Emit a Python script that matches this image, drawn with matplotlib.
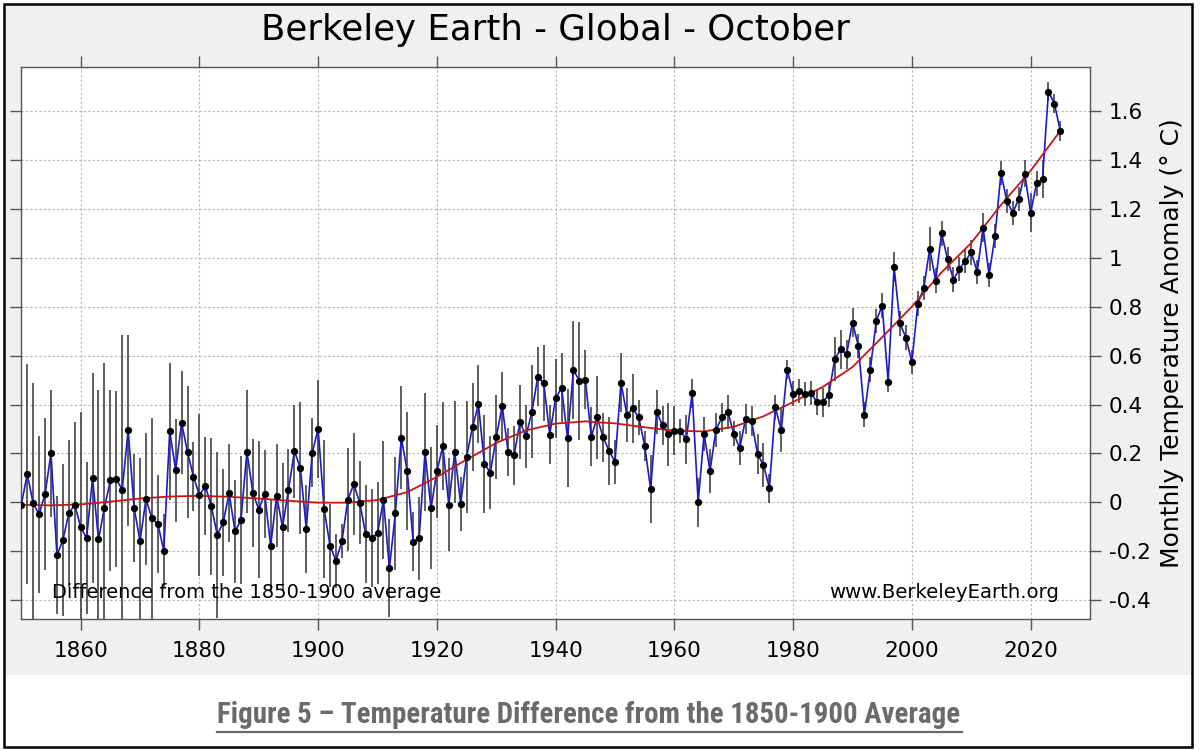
import numpy as np
import matplotlib
matplotlib.use('Agg')
import matplotlib.pyplot as plt
from matplotlib.patches import Rectangle
from matplotlib.lines import Line2D

# October anomaly (deg C) relative to 1850-1900
years = list(range(1850, 2026))
anomaly = [
    -0.010, 0.116, -0.004, -0.048, 0.034, 0.200, -0.215, -0.155, -0.044, -0.010,
    -0.100, -0.146, 0.099, -0.151, -0.022, 0.090, 0.095, 0.052, 0.295, -0.022,
    -0.158, 0.014, -0.065, -0.088, -0.197, 0.290, 0.132, 0.325, 0.205, 0.105,
    0.030, 0.067, -0.015, -0.132, -0.082, 0.037, -0.118, -0.072, 0.208, 0.039,
    -0.029, 0.035, -0.178, 0.027, -0.100, 0.050, 0.210, 0.140, -0.107, 0.203,
    0.300, -0.027, -0.177, -0.238, -0.159, 0.011, 0.075, -0.001, -0.129, -0.146,
    -0.125, 0.010, -0.268, -0.045, 0.264, 0.129, -0.160, -0.146, 0.206, -0.024,
    0.127, 0.230, -0.009, 0.206, -0.005, 0.186, 0.308, 0.401, 0.157, 0.122,
    0.267, 0.394, 0.206, 0.192, 0.328, 0.270, 0.371, 0.514, 0.487, 0.277,
    0.425, 0.469, 0.262, 0.542, 0.496, 0.501, 0.269, 0.347, 0.266, 0.211,
    0.166, 0.489, 0.358, 0.384, 0.347, 0.231, 0.054, 0.370, 0.315, 0.278,
    0.293, 0.291, 0.258, 0.445, 0.000, 0.280, 0.128, 0.297, 0.347, 0.370,
    0.281, 0.222, 0.341, 0.333, 0.198, 0.153, 0.058, 0.388, 0.295, 0.543,
    0.444, 0.455, 0.442, 0.448, 0.409, 0.409, 0.440, 0.584, 0.626, 0.605,
    0.735, 0.638, 0.359, 0.543, 0.742, 0.804, 0.493, 0.962, 0.731, 0.673,
    0.573, 0.812, 0.875, 1.037, 0.906, 1.099, 0.995, 0.910, 0.953, 0.987,
    1.021, 0.942, 1.123, 0.929, 1.089, 1.345, 1.231, 1.183, 1.240, 1.343,
    1.183, 1.303, 1.321, 1.678, 1.629, 1.518,
]
uncertainty = [
    0.50, 0.45, 0.49, 0.32, 0.31, 0.26, 0.24, 0.31, 0.30, 0.34,
    0.47, 0.31, 0.43, 0.61, 0.59, 0.37, 0.36, 0.63, 0.39, 0.22,
    0.34, 0.27, 0.41, 0.20, 0.15, 0.28, 0.21, 0.21, 0.27, 0.14,
    0.33, 0.20, 0.28, 0.34, 0.22, 0.20, 0.21, 0.26, 0.25, 0.22,
    0.28, 0.18, 0.19, 0.21, 0.26, 0.17, 0.19, 0.27, 0.18, 0.14,
    0.20, 0.28, 0.17, 0.11, 0.07, 0.21, 0.21, 0.17, 0.20, 0.20,
    0.21, 0.24, 0.20, 0.23, 0.21, 0.24, 0.12, 0.17, 0.24, 0.25,
    0.19, 0.18, 0.19, 0.21, 0.11, 0.23, 0.18, 0.16, 0.20, 0.15,
    0.17, 0.14, 0.10, 0.12, 0.15, 0.13, 0.19, 0.12, 0.155, 0.12,
    0.16, 0.14, 0.20, 0.20, 0.24, 0.12, 0.12, 0.17, 0.10, 0.14,
    0.09, 0.12, 0.11, 0.14, 0.07, 0.06, 0.14, 0.09, 0.08, 0.13,
    0.10, 0.05, 0.10, 0.06, 0.10, 0.07, 0.09, 0.07, 0.06, 0.07,
    0.05, 0.07, 0.06, 0.06, 0.08, 0.09, 0.06, 0.05, 0.09, 0.04,
    0.05, 0.05, 0.05, 0.05, 0.05, 0.06, 0.05, 0.09, 0.08, 0.06,
    0.06, 0.05, 0.05, 0.05, 0.05, 0.05, 0.04, 0.06, 0.05, 0.05,
    0.05, 0.05, 0.05, 0.09, 0.05, 0.05, 0.05, 0.05, 0.05, 0.05,
    0.05, 0.05, 0.06, 0.05, 0.05, 0.05, 0.05, 0.05, 0.05, 0.055,
    0.08, 0.05, 0.076, 0.04, 0.04, 0.04,
]

# smoothed trend (red line), read every 5 years
smooth_years = list(range(1850, 2026, 5))
smooth_vals = [
    -0.010, -0.012, -0.008, 0.003, 0.016, 0.024, 0.027, 0.023, 0.016, 0.007,
    -0.001, -0.001, 0.010, 0.042, 0.104, 0.175, 0.243, 0.294, 0.322, 0.331,
    0.323, 0.307, 0.293, 0.290, 0.309, 0.352, 0.410, 0.472, 0.553, 0.675,
    0.800, 0.940, 1.060, 1.215, 1.355, 1.518,
]

x_ticks = [1860, 1880, 1900, 1920, 1940, 1960, 1980, 2000, 2020]
y_ticks = [-0.4, -0.2, 0, 0.2, 0.4, 0.6, 0.8, 1, 1.2, 1.4, 1.6]
y_tick_labels = ['-0.4', '-0.2', '0', '0.2', '0.4', '0.6', '0.8', '1', '1.2', '1.4', '1.6']

fig = plt.figure(figsize=(12, 7.5), dpi=100)
fig.patch.set_facecolor('white')
# grey panel behind the chart, white strip for the caption
fig.add_artist(Rectangle((4 / 1200, 75 / 750), 1187 / 1200, 671 / 750,
                         transform=fig.transFigure, facecolor='#f0f0f0',
                         edgecolor='none', zorder=-10))
fig.add_artist(Rectangle((3.5 / 1200, 3.5 / 750), 1188 / 1200, 743 / 750,
                         transform=fig.transFigure, facecolor='none',
                         edgecolor='black', linewidth=1.8, zorder=10))

ax = fig.add_axes([20.7 / 1200, 1 - 618.7 / 750, 1069.3 / 1200, 552 / 750])
ax.set_facecolor('white')

ax.errorbar(years, anomaly, yerr=uncertainty, fmt='none', ecolor='#333333',
            elinewidth=1.1, capsize=0, zorder=2)
ax.plot(years, anomaly, color='#1a1acc', lw=1.2, zorder=3)
ax.plot(smooth_years, smooth_vals, color='#c8150f', lw=1.3, zorder=4)
ax.plot(years, anomaly, 'o', color='black', ms=4.2, zorder=5)

ax.set_xlim(1849.9, 2030)
ax.set_ylim(-0.475, 1.78)
ax.set_xticks(x_ticks)
ax.set_yticks(y_ticks)
ax.set_yticklabels(y_tick_labels)
ax.grid(True, color='#b4b4b4', linestyle=(0, (2, 2)), lw=0.8, zorder=0)
ax.set_axisbelow(True)

for s in ax.spines.values():
    s.set_color('#555555')
    s.set_linewidth(1.0)

ax.tick_params(axis='both', which='both', direction='out', length=7.9, width=1,
               color='#555555', top=True, bottom=True, left=True, right=True,
               labelleft=False, labelright=True, labelsize=15.5)
ax.tick_params(axis='x', pad=8)
ax.tick_params(axis='y', pad=5.5)

ax.yaxis.set_label_position('right')
ax.set_ylabel('Monthly Temperature Anomaly (° C)', fontsize=18)
ax.yaxis.set_label_coords(1.0655, 0.5)

ax.set_title('Berkeley Earth - Global - October', fontsize=25.6, pad=19.5)

ax.text(0.029, 0.0375, 'Difference from the 1850-1900 average', transform=ax.transAxes,
        fontsize=14, va='baseline', ha='left')
ax.text(0.971, 0.0375, 'www.BerkeleyEarth.org', transform=ax.transAxes,
        fontsize=14.2, va='baseline', ha='right')

caption = fig.text(216.7 / 1200, 1 - 723.3 / 750,
                   'Figure 5 \u2013 Temperature Difference from the 1850-1900 Average',
                   family=['Roboto Condensed', 'Liberation Sans Narrow', 'Roboto', 'DejaVu Sans'],
                   weight='bold', fontsize=24, color='#6a6a6a', va='baseline', ha='left')
# shrink the caption so it spans the same width as the underline
fig.canvas.draw()
cap_w = caption.get_window_extent().width
caption.set_fontsize(24 * 745 / cap_w)
fig.add_artist(Line2D([216.7 / 1200, 962 / 1200], [1 - 732 / 750, 1 - 732 / 750],
                      transform=fig.transFigure, color='#6a6a6a', lw=1.6))

fig.savefig('out.png', dpi=100, facecolor=fig.get_facecolor())
